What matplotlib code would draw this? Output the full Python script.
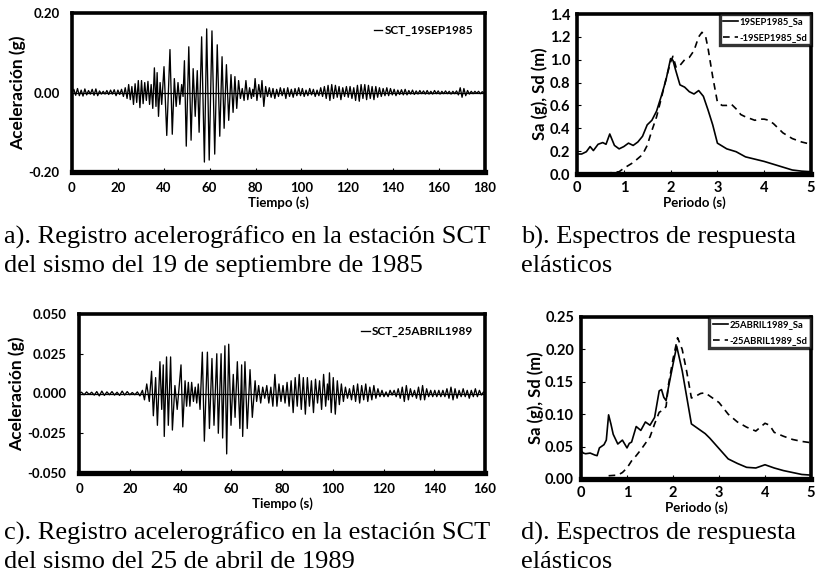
import matplotlib
matplotlib.use("Agg")
import matplotlib.pyplot as plt
import numpy as np

# acelerograma SCT 19 sep 1985 (picos leidos, t en s, a en g)
t_1985 = [0.0, 0.8, 1.6, 2.4, 3.2, 4.0, 4.8, 5.6, 6.4, 7.2,
          8.0, 8.8, 9.6, 10.4, 11.2, 12.0, 12.8, 13.6, 14.4, 15.2,
          16.0, 16.8, 17.6, 18.4, 19.2, 20.0, 20.8, 21.6, 22.4, 23.2,
          24.0, 24.7, 25.4, 26.1, 26.8, 27.5, 28.2, 28.9, 29.6, 30.3,
          31.0, 31.7, 32.4, 33.1, 33.8, 34.5, 35.2, 35.9, 36.6, 37.1,
          37.7, 38.4, 39.1, 40.1, 41.3, 42.7, 43.7, 44.6, 45.4, 46.2,
          47.0, 47.8, 48.4, 49.0, 49.8, 50.9, 51.9, 52.8, 53.7, 54.6,
          55.4, 56.5, 57.7, 58.7, 59.8, 61.0, 62.2, 63.3, 64.4, 65.4,
          66.3, 67.3, 68.3, 69.3, 70.2, 71.0, 71.8, 72.6, 73.4, 74.2,
          75.0, 75.8, 76.6, 77.4, 78.2, 78.8, 79.2, 79.8, 80.6, 81.4,
          82.2, 82.8, 83.6, 84.4, 85.2, 86.0, 86.8, 87.6, 88.4, 89.2,
          90.0, 90.8, 91.6, 92.4, 93.2, 94.0, 94.8, 95.6, 96.4, 97.2,
          98.0, 98.8, 99.6, 100.4, 101.2, 102.0, 102.8, 103.6, 104.4, 105.2,
          106.0, 106.8, 107.6, 108.4, 109.2, 110.0, 110.8, 111.6, 112.4, 113.2,
          114.0, 114.8, 115.6, 116.4, 117.2, 118.0, 118.8, 119.6, 120.4, 121.2,
          122.0, 122.8, 123.6, 124.4, 125.2, 126.0, 126.8, 127.6, 128.4, 129.2,
          130.0, 130.8, 131.6, 132.4, 133.2, 134.0, 134.8, 135.6, 136.4, 137.2,
          138.0, 138.8, 139.6, 140.4, 141.2, 142.0, 142.8, 143.6, 144.4, 145.2,
          146.0, 146.8, 147.6, 148.4, 149.2, 150.0, 150.8, 151.6, 152.4, 153.2,
          154.0, 154.8, 155.6, 156.4, 157.2, 158.0, 158.8, 159.6, 160.4, 161.2,
          162.0, 162.8, 163.6, 164.4, 165.2, 166.0, 166.8, 167.6, 168.4, 169.2,
          170.0, 170.8, 171.6, 172.4, 173.2, 174.0, 174.8, 175.6, 176.4, 177.2,
          178.0, 178.8, 179.6, 180.0]
acc_1985 = [0.000, 0.008, -0.007, 0.010, -0.008, 0.006, -0.009, 0.009, -0.006, 0.005,
            -0.004, 0.008, -0.007, 0.009, -0.008, 0.004, -0.004, 0.003, -0.004, 0.005,
            -0.005, 0.006, -0.004, 0.007, -0.008, 0.006, -0.005, 0.008, -0.010, 0.012,
            -0.015, 0.020, -0.018, 0.015, -0.030, 0.022, -0.025, 0.030, -0.038, 0.030,
            -0.028, 0.025, -0.020, 0.028, -0.030, 0.020, -0.040, 0.062, -0.035, 0.050,
            -0.060, 0.025, -0.030, 0.065, -0.108, 0.108, -0.105, 0.035, -0.035, 0.025,
            -0.030, 0.020, -0.010, 0.080, -0.135, 0.115, -0.120, 0.060, -0.060, 0.055,
            -0.100, 0.140, -0.175, 0.160, -0.170, 0.155, -0.155, 0.120, -0.110, 0.090,
            -0.090, 0.070, -0.070, 0.045, -0.050, 0.040, -0.040, 0.030, -0.015, 0.010,
            -0.020, 0.030, -0.018, 0.012, -0.015, 0.008, -0.010, 0.035, -0.020, 0.020,
            -0.012, 0.030, -0.035, 0.015, -0.010, 0.012, -0.012, 0.010, -0.015, 0.008,
            -0.010, 0.012, -0.008, 0.010, -0.015, 0.012, -0.010, 0.008, -0.012, 0.010,
            -0.008, 0.012, -0.008, 0.010, -0.010, 0.006, -0.008, 0.010, -0.006, 0.008,
            -0.010, 0.006, -0.008, 0.012, -0.010, 0.015, -0.015, 0.018, -0.020, 0.020,
            -0.015, 0.018, -0.012, 0.015, -0.018, 0.012, -0.010, 0.015, -0.012, 0.015,
            -0.015, 0.012, -0.020, 0.018, -0.022, 0.020, -0.015, 0.020, -0.018, 0.018,
            -0.015, 0.015, -0.018, 0.015, -0.012, 0.012, -0.010, 0.010, -0.008, 0.012,
            -0.008, 0.010, -0.006, 0.008, -0.008, 0.006, -0.005, 0.007, -0.006, 0.008,
            -0.006, 0.005, -0.004, 0.006, -0.005, 0.004, -0.004, 0.005, -0.003, 0.004,
            -0.004, 0.005, -0.004, 0.003, -0.004, 0.005, -0.003, 0.004, -0.004, 0.003,
            -0.003, 0.004, -0.003, 0.003, -0.004, 0.003, -0.003, 0.004, -0.006, 0.012,
            -0.012, 0.010, -0.008, 0.005, -0.004, 0.003, -0.003, 0.003, -0.002, 0.003,
            -0.003, 0.002, -0.002, 0.000]

# acelerograma SCT 25 abril 1989
t_1989 = [0.0, 1.0, 2.0, 3.0, 4.0, 5.0, 6.0, 7.0, 8.0, 9.0,
          10.0, 11.0, 12.0, 13.0, 14.0, 15.0, 16.0, 17.0, 18.0, 19.0,
          20.0, 21.0, 22.0, 23.0, 24.0, 25.0, 25.8, 26.7, 27.7, 28.6,
          29.3, 30.2, 30.9, 31.9, 32.6, 33.2, 33.6, 34.5, 35.2, 36.1,
          36.8, 37.8, 38.7, 40.2, 40.9, 41.8, 42.4, 43.1, 43.7, 44.4,
          45.1, 45.8, 46.4, 47.0, 47.7, 48.6, 49.4, 50.6, 51.4, 52.4,
          53.2, 54.3, 54.9, 56.0, 56.6, 57.5, 58.2, 59.0, 59.9, 60.8,
          61.5, 62.4, 63.4, 64.1, 64.5, 65.4, 66.3, 67.4, 68.3, 69.4,
          70.0, 70.8, 71.6, 72.4, 73.2, 74.0, 74.8, 75.6, 76.4, 77.2,
          78.0, 78.8, 79.6, 80.4, 81.2, 82.0, 82.8, 83.6, 84.4, 85.2,
          86.0, 86.8, 87.6, 88.4, 89.2, 90.0, 90.8, 91.6, 92.4, 93.2,
          94.0, 94.8, 95.6, 96.4, 97.2, 97.9, 98.3, 98.7, 99.4, 100.2,
          101.0, 101.8, 102.6, 103.4, 104.2, 105.0, 105.8, 106.6, 107.4, 108.2,
          109.0, 109.8, 110.6, 111.4, 112.2, 113.0, 113.8, 114.6, 115.4, 116.2,
          117.0, 117.8, 118.6, 119.4, 120.2, 121.0, 121.8, 122.6, 123.4, 124.2,
          125.0, 125.8, 126.6, 127.4, 128.2, 129.0, 129.8, 130.6, 131.4, 132.2,
          133.0, 133.8, 134.6, 135.4, 136.2, 137.0, 137.8, 138.6, 139.4, 140.2,
          141.0, 141.8, 142.6, 143.4, 144.2, 145.0, 145.8, 146.6, 147.4, 148.2,
          149.0, 149.8, 150.6, 151.4, 152.2, 153.0, 153.8, 154.6, 155.4, 156.2,
          157.0, 157.8, 158.6, 159.4, 160.0]
acc_1989 = [0.0000, 0.0008, -0.0008, 0.0010, -0.0006, 0.0008, -0.0010, 0.0012, -0.0015, 0.0015,
            -0.0012, 0.0010, -0.0008, 0.0012, -0.0010, 0.0008, -0.0012, 0.0015, -0.0010, 0.0012,
            -0.0008, 0.0006, -0.0008, 0.0010, -0.0015, 0.0020, -0.0040, 0.0060, -0.0050, 0.0140,
            -0.0140, 0.0100, -0.0200, 0.0200, -0.0100, 0.0180, -0.0270, 0.0230, -0.0200, 0.0230,
            -0.0230, 0.0050, -0.0100, 0.0180, -0.0210, 0.0080, -0.0080, 0.0070, -0.0080, 0.0070,
            -0.0050, 0.0040, -0.0060, 0.0060, -0.0100, 0.0260, -0.0300, 0.0260, -0.0220, 0.0220,
            -0.0200, 0.0250, -0.0250, 0.0250, -0.0280, 0.0300, -0.0380, 0.0310, -0.0200, 0.0120,
            -0.0150, 0.0200, -0.0220, 0.0180, -0.0270, 0.0200, -0.0220, 0.0150, -0.0150, 0.0080,
            -0.0050, 0.0050, -0.0060, 0.0040, -0.0030, 0.0050, -0.0060, 0.0040, -0.0080, 0.0120,
            -0.0080, 0.0060, -0.0050, 0.0050, -0.0060, 0.0070, -0.0080, 0.0080, -0.0120, 0.0100,
            -0.0080, 0.0120, -0.0100, 0.0100, -0.0130, 0.0100, -0.0080, 0.0080, -0.0120, 0.0090,
            -0.0060, 0.0080, -0.0100, 0.0120, -0.0080, 0.0060, -0.0040, 0.0130, -0.0120, 0.0100,
            -0.0130, 0.0080, -0.0070, 0.0060, -0.0050, 0.0040, -0.0030, 0.0030, -0.0040, 0.0050,
            -0.0050, 0.0060, -0.0060, 0.0050, -0.0040, 0.0060, -0.0050, 0.0040, -0.0040, 0.0050,
            -0.0030, 0.0030, -0.0020, 0.0020, -0.0020, 0.0010, -0.0020, 0.0020, -0.0010, 0.0020,
            -0.0020, 0.0030, -0.0030, 0.0040, -0.0050, 0.0050, -0.0040, 0.0030, -0.0020, 0.0020,
            -0.0030, 0.0040, -0.0040, 0.0050, -0.0040, 0.0030, -0.0020, 0.0020, -0.0020, 0.0020,
            -0.0020, 0.0020, -0.0020, 0.0020, -0.0020, 0.0030, -0.0030, 0.0040, -0.0040, 0.0030,
            -0.0030, 0.0020, -0.0020, 0.0030, -0.0020, 0.0020, -0.0030, 0.0020, -0.0020, 0.0030,
            -0.0020, 0.0020, -0.0010, 0.0010, 0.0000]

# espectros 1985
T_sa85 = [0.0, 0.1, 0.2, 0.28, 0.35, 0.45, 0.55, 0.62, 0.7, 0.8, 0.9, 1.0, 1.1, 1.2, 1.3,
          1.4, 1.5, 1.6, 1.7, 1.8, 1.9, 2.0, 2.05, 2.1, 2.2, 2.3, 2.4, 2.5, 2.6, 2.7,
          2.8, 2.9, 3.0, 3.2, 3.4, 3.6, 3.8, 4.0, 4.2, 4.4, 4.6, 4.8, 5.0]
sa_85 = [0.175, 0.175, 0.195, 0.24, 0.205, 0.26, 0.275, 0.26, 0.35, 0.25, 0.22, 0.24, 0.27, 0.25, 0.28,
         0.33, 0.43, 0.47, 0.55, 0.68, 0.82, 1.01, 0.995, 0.92, 0.78, 0.76, 0.72, 0.70, 0.73, 0.68,
         0.56, 0.43, 0.27, 0.22, 0.195, 0.15, 0.13, 0.11, 0.085, 0.06, 0.035, 0.025, 0.02]
T_sd85 = [0.6, 0.7, 0.9, 1.0, 1.2, 1.4, 1.5, 1.6, 1.7, 1.8, 1.9, 2.0, 2.05, 2.12, 2.2,
          2.3, 2.4, 2.5, 2.6, 2.67, 2.75, 2.8, 2.9, 3.0, 3.1, 3.2, 3.3, 3.4, 3.5, 3.6,
          3.8, 3.9, 4.0, 4.1, 4.2, 4.4, 4.6, 4.8, 5.0]
sd_85 = [0.0, 0.01, 0.02, 0.05, 0.10, 0.17, 0.25, 0.38, 0.50, 0.66, 0.83, 0.98, 1.03, 0.93, 0.95,
         1.00, 1.02, 1.08, 1.20, 1.24, 1.20, 1.10, 0.85, 0.63, 0.60, 0.60, 0.61, 0.57, 0.52, 0.50,
         0.47, 0.48, 0.48, 0.47, 0.44, 0.36, 0.31, 0.28, 0.26]

# espectros 1989
T_sa89 = [0.0, 0.05, 0.1, 0.2, 0.3, 0.35, 0.4, 0.5, 0.55, 0.6, 0.65, 0.7, 0.8, 0.9, 1.0,
          1.05, 1.1, 1.2, 1.3, 1.4, 1.5, 1.6, 1.7, 1.75, 1.8, 1.85, 1.9, 2.0, 2.08, 2.2,
          2.3, 2.4, 2.5, 2.6, 2.7, 2.8, 3.0, 3.2, 3.4, 3.6, 3.8, 4.0, 4.2, 4.4, 4.6, 4.8, 5.0]
sa_89 = [0.044, 0.040, 0.039, 0.040, 0.037, 0.036, 0.048, 0.053, 0.060, 0.099, 0.085, 0.069, 0.054, 0.060, 0.048,
         0.055, 0.057, 0.081, 0.075, 0.088, 0.083, 0.095, 0.136, 0.138, 0.126, 0.121, 0.141, 0.177, 0.205, 0.167,
         0.126, 0.085, 0.080, 0.075, 0.070, 0.063, 0.047, 0.031, 0.024, 0.018, 0.017, 0.022, 0.017, 0.013, 0.010, 0.007, 0.006]
T_sd89 = [0.6, 0.8, 0.9, 1.0, 1.1, 1.2, 1.3, 1.4, 1.5, 1.6, 1.7, 1.8, 1.85, 1.9, 2.0,
          2.1, 2.2, 2.3, 2.4, 2.5, 2.6, 2.7, 2.8, 3.0, 3.2, 3.4, 3.6, 3.8, 4.0, 4.1,
          4.2, 4.4, 4.6, 4.8, 5.0]
sd_89 = [0.005, 0.006, 0.010, 0.017, 0.028, 0.036, 0.045, 0.055, 0.065, 0.085, 0.103, 0.107, 0.112, 0.145, 0.185,
         0.218, 0.200, 0.165, 0.125, 0.128, 0.132, 0.133, 0.128, 0.118, 0.100, 0.088, 0.080, 0.074, 0.086, 0.083,
         0.072, 0.066, 0.061, 0.058, 0.056]

fnt = "Lato"


def marco(ax, size, xpad, ypad):
    for s in ax.spines.values():
        s.set_linewidth(2.6)
        s.set_color("black")
    ax.spines["bottom"].set_linewidth(3.8)
    ax.tick_params(direction="in", length=3, width=0.8, colors="black")
    ax.tick_params(axis="x", pad=xpad)
    ax.tick_params(axis="y", pad=ypad)
    for lab in ax.get_xticklabels() + ax.get_yticklabels():
        lab.set_fontfamily(fnt)
        lab.set_fontweight("bold")
        lab.set_fontsize(size)


def acelerograma(ax, t, a, lim, ticks, fmt, xmax, xstep, nombre):
    ax.plot(t, a, color="black", lw=0.95, label=nombre)
    ax.axhline(0, color="black", lw=0.9)
    ax.set_xlim(0, xmax)
    ax.set_ylim(-lim, lim)
    ax.set_yticks(ticks)
    ax.set_yticklabels([fmt % v for v in ticks])
    ax.set_xticks(np.arange(0, xmax + 1, xstep))
    ax.set_xlabel("Tiempo (s)", fontfamily=fnt, fontweight="bold", fontsize=9.5, labelpad=2)
    ax.set_ylabel("Aceleración (g)", fontfamily=fnt, fontweight="bold", fontsize=12.5, labelpad=2)
    marco(ax, 9.5, 7, 9)
    ax.legend(loc="upper right", frameon=False, handlelength=0.7, handletextpad=0.2,
              borderaxespad=0.6, prop=dict(family=fnt, weight="bold", size=8.5))


def espectro(ax, T1, sa, T2, sd, ylim, ystep, fmt, nombre):
    ax.plot(T1, sa, color="black", lw=1.2, label=nombre + "_Sa")
    ax.plot(T2, sd, color="black", lw=1.2, ls=(0, (4, 3)), label="-" + nombre + "_Sd")
    ax.set_xlim(0, 5)
    ax.set_ylim(0, ylim)
    yt = np.arange(0, ylim + ystep / 2, ystep)
    ax.set_yticks(yt)
    ax.set_yticklabels([fmt % v for v in yt])
    ax.set_xticks([0, 1, 2, 3, 4, 5])
    ax.set_xlabel("Periodo (s)", fontfamily=fnt, fontweight="bold", fontsize=9.5, labelpad=1)
    ax.set_ylabel("Sa (g), Sd (m)", fontfamily=fnt, fontweight="bold", fontsize=12, labelpad=1)
    marco(ax, 10.5, 5, 5)
    leg = ax.legend(loc="upper right", frameon=True, fancybox=False, handlelength=1.6,
                    handletextpad=0.2, borderaxespad=0.0, borderpad=0.35, labelspacing=0.7,
                    prop=dict(family=fnt, weight="bold", size=6.8))
    leg.get_frame().set_edgecolor("black")
    leg.get_frame().set_linewidth(2.4)


fig = plt.figure(figsize=(8.17, 5.8), dpi=100)

ax1 = fig.add_axes([72 / 817, 1 - 172 / 580, 413 / 817, 159 / 580])
acelerograma(ax1, t_1985, acc_1985, 0.2, [-0.2, 0.0, 0.2], "%.2f", 180, 20, "SCT_19SEP1985")

ax2 = fig.add_axes([577 / 817, 1 - 174 / 580, 234 / 817, 160 / 580])
espectro(ax2, T_sa85, sa_85, T_sd85, sd_85, 1.4, 0.2, "%.1f", "19SEP1985")

ax3 = fig.add_axes([79 / 817, 1 - 473 / 580, 406 / 817, 159 / 580])
acelerograma(ax3, t_1989, acc_1989, 0.05, [-0.05, -0.025, 0.0, 0.025, 0.05], "%.3f", 160, 20,
             "SCT_25ABRIL1989")

ax4 = fig.add_axes([581 / 817, 1 - 479 / 580, 230 / 817, 162 / 580])
espectro(ax4, T_sa89, sa_89, T_sd89, sd_89, 0.25, 0.05, "%.2f", "25ABRIL1989")

# pies de figura
cap = dict(family=["Liberation Serif", "DejaVu Serif"], fontsize=19, va="baseline", ha="left")
fig.text(4 / 817, 1 - 244 / 580, "a). Registro acelerográfico en la estación SCT", **cap)
fig.text(4 / 817, 1 - 272 / 580, "del sismo del 19 de septiembre de 1985", **cap)
fig.text(521 / 817, 1 - 244 / 580, "b). Espectros de respuesta", **cap)
fig.text(521 / 817, 1 - 272 / 580, "elásticos", **cap)
fig.text(4 / 817, 1 - 540 / 580, "c). Registro acelerográfico en la estación SCT", **cap)
fig.text(4 / 817, 1 - 568 / 580, "del sismo del 25 de abril de 1989", **cap)
fig.text(521 / 817, 1 - 540 / 580, "d). Espectros de respuesta", **cap)
fig.text(521 / 817, 1 - 568 / 580, "elásticos", **cap)

fig.savefig("out.png", dpi=100)
